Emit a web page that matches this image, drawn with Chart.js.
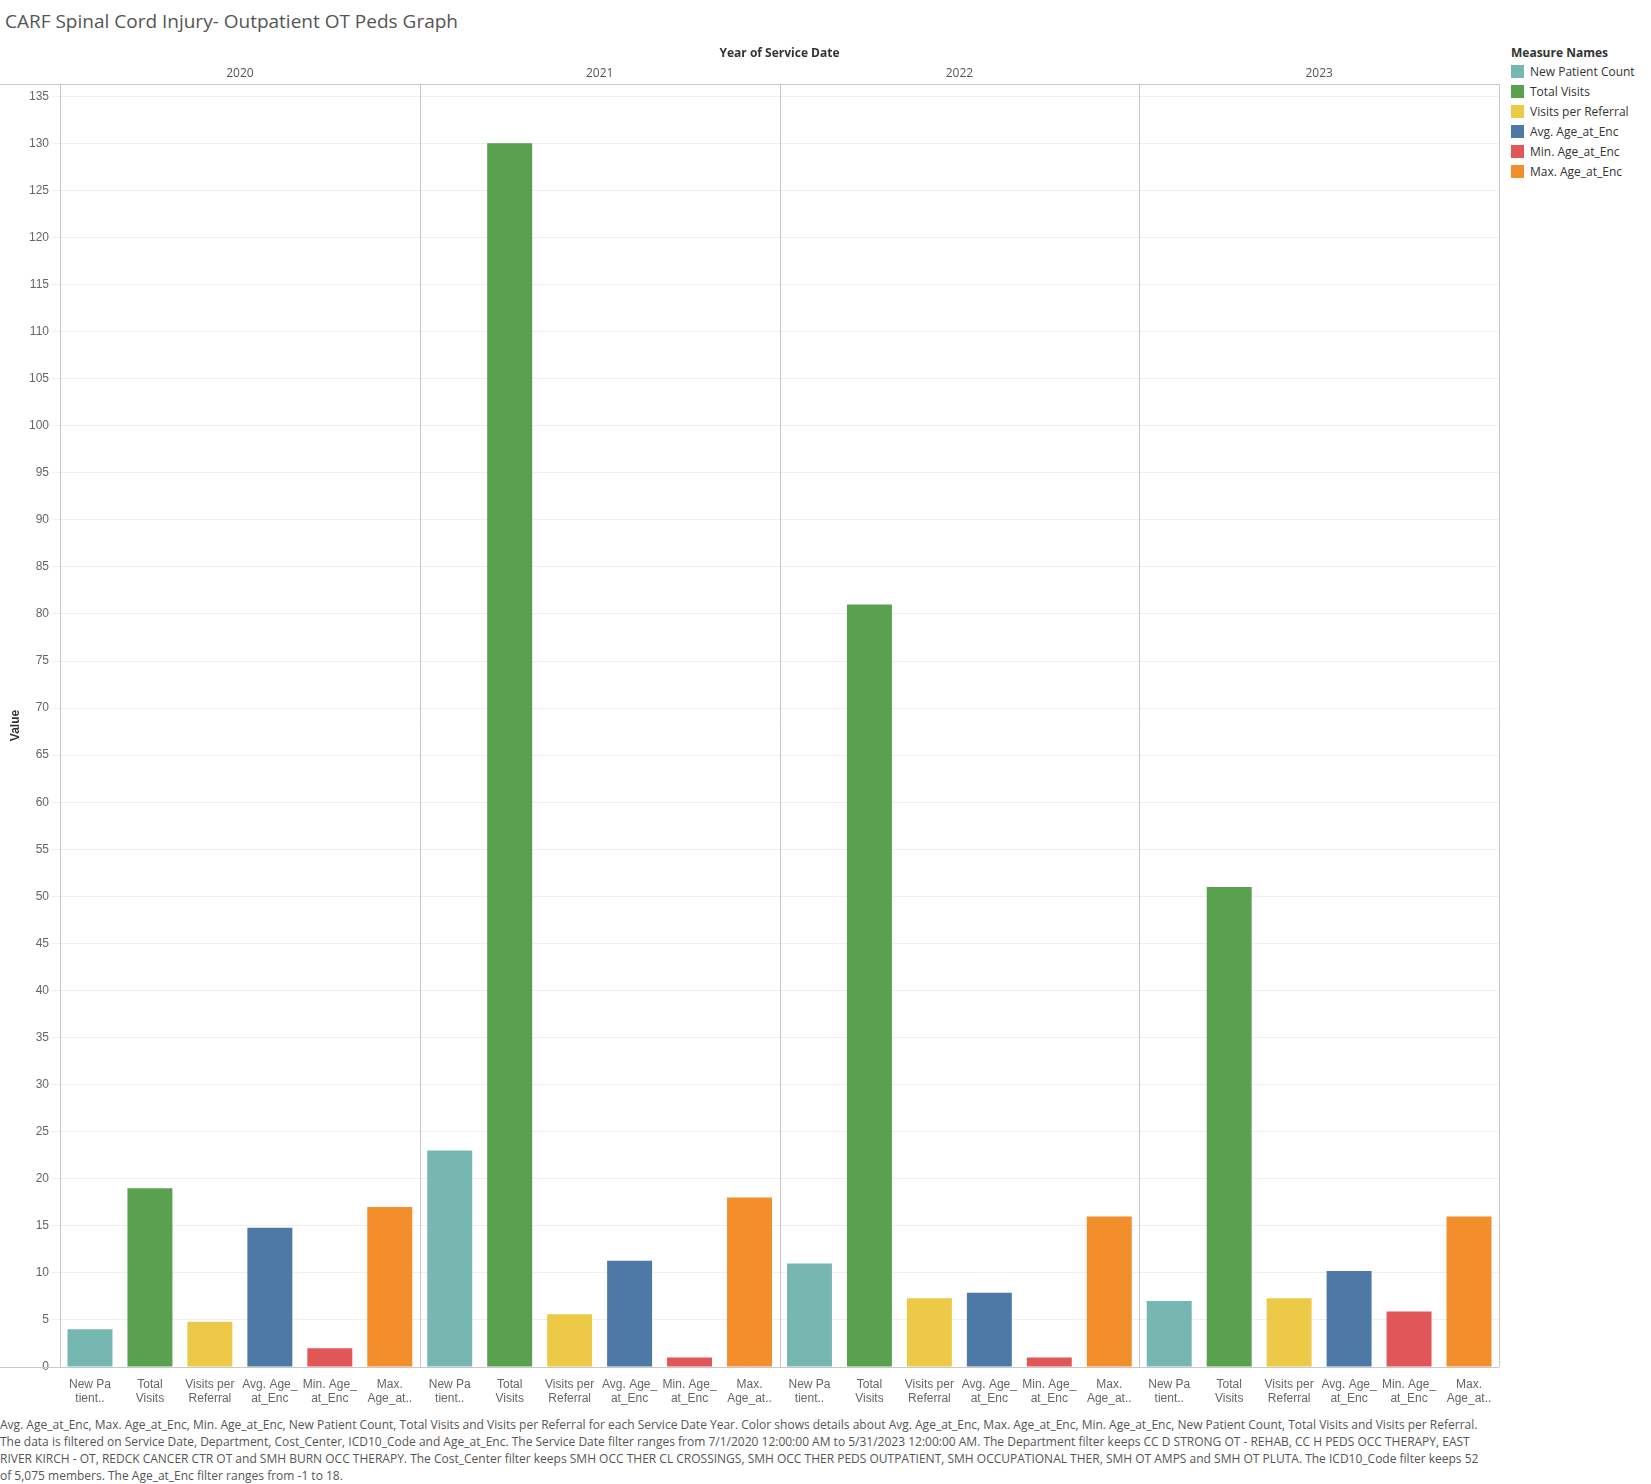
<!DOCTYPE html>
<html><head><meta charset="utf-8">
<script src="https://cdn.jsdelivr.net/npm/chart.js@4"></script>
<style>
body{margin:0;width:1651px;height:1484px;position:relative;font-family:"Open Sans",Lato,sans-serif;background:#fff;overflow:hidden}
#title{position:absolute;left:5px;top:8px;font-size:19px;color:#555}
#legend{position:absolute;left:1511px;top:44px;font-size:12px;color:#333}
#legend b{display:block;margin-bottom:0px;font-weight:bold}
#legend div{height:20px;display:flex;align-items:center}
#legend span{width:13px;height:13px;margin-right:6px;display:inline-block}
#note{position:absolute;left:0;top:1416px;width:1480px;font-size:12px;color:#555;line-height:17px}
canvas{position:absolute;left:0;top:0}
</style></head><body>
<div id="title">CARF Spinal Cord Injury- Outpatient OT Peds Graph</div>
<div id="legend"></div>
<div id="note">Avg. Age_at_Enc, Max. Age_at_Enc, Min. Age_at_Enc, New Patient Count, Total Visits and Visits per Referral for each Service Date Year.  Color shows details about Avg. Age_at_Enc, Max. Age_at_Enc, Min. Age_at_Enc, New Patient Count, Total Visits and Visits per Referral. The data is filtered on Service Date, Department, Cost_Center, ICD10_Code and Age_at_Enc. The Service Date filter ranges from 7/1/2020 12:00:00 AM to 5/31/2023 12:00:00 AM. The Department filter keeps CC D STRONG OT - REHAB, CC H PEDS OCC THERAPY, EAST RIVER KIRCH - OT, REDCK CANCER CTR OT and SMH BURN OCC THERAPY. The Cost_Center filter keeps SMH OCC THER CL CROSSINGS, SMH OCC THER PEDS OUTPATIENT, SMH OCCUPATIONAL THER, SMH OT AMPS and SMH OT PLUTA. The ICD10_Code filter keeps 52 of 5,075 members. The Age_at_Enc filter ranges from -1 to 18.</div>
<div style="position:absolute;left:0;top:0;width:1651px;height:1484px"><canvas id="chart"></canvas></div>
<script>
const years = ['2020', '2021', '2022', '2023'];
const measures = ['New Patient Count', 'Total Visits', 'Visits per Referral', 'Avg. Age_at_Enc', 'Min. Age_at_Enc', 'Max. Age_at_Enc'];
const shortLabels = [['New Pa', 'tient..'], ['Total', 'Visits'], ['Visits per', 'Referral'], ['Avg. Age_', 'at_Enc'], ['Min. Age_', 'at_Enc'], ['Max.', 'Age_at..']];
const colors = ['#76b7b2', '#59a14f', '#edc948', '#4e79a7', '#e15759', '#f28e2b'];
const newPatients = [4, 23, 11, 7];
const totalVisits = [19, 130, 81, 51];
const visitsPerReferral = [4.8, 5.6, 7.3, 7.3];
const avgAge = [14.8, 11.3, 7.9, 10.2];
const minAge = [2, 1, 1, 5.9];
const maxAge = [17, 18, 16, 16];

const series = [newPatients, totalVisits, visitsPerReferral, avgAge, minAge, maxAge];
const labels = [], values = [], barColors = [];
years.forEach((y, yi) => series.forEach((s, mi) => {
  labels.push(shortLabels[mi]); values.push(s[yi]); barColors.push(colors[mi]);
}));

document.getElementById('legend').innerHTML = '<b>Measure Names</b>' +
  measures.map((m, i) => `<div><span style="background:${colors[i]}"></span>${m}</div>`).join('');

const panels = {
  id: 'panels',
  afterDraw(chart) {
    const { ctx, chartArea: a } = chart;
    ctx.save();
    ctx.strokeStyle = '#c8c8c8'; ctx.lineWidth = 1;
    ctx.beginPath();
    ctx.moveTo(0, a.top + .5); ctx.lineTo(a.right, a.top + .5);
    ctx.moveTo(a.right + .5, a.top); ctx.lineTo(a.right + .5, a.bottom);
    ctx.moveTo(0, a.bottom + .5); ctx.lineTo(a.right, a.bottom + .5);
    const step = (a.right - a.left) / labels.length;
    for (let i = 1; i < years.length; i++) {
      const px = Math.round(a.left + step * 6 * i) + .5;
      ctx.moveTo(px, a.top); ctx.lineTo(px, a.bottom);
    }
    ctx.stroke();
    ctx.fillStyle = '#333'; ctx.textAlign = 'center';
    ctx.font = 'bold 12px "Open Sans"';
    ctx.fillText('Year of Service Date', (a.left + a.right) / 2, 57);
    ctx.font = '12px "Open Sans"'; ctx.fillStyle = '#555';
    years.forEach((y, i) => ctx.fillText(y, a.left + step * (6 * i + 3), 77));
    ctx.restore();
  }
};

new Chart(document.getElementById('chart'), {
  type: 'bar',
  data: { labels, datasets: [{ data: values, backgroundColor: barColors, barPercentage: 0.75, categoryPercentage: 1 }] },
  options: {
    responsive: true, maintainAspectRatio: false, animation: false,
    layout: { padding: { top: 84, right: 152, bottom: 72, left: 8 } },
    plugins: { legend: { display: false }, tooltip: { enabled: false } },
    scales: {
      x: {
        grid: { display: false }, border: { display: false },
        ticks: { color: '#666', font: { size: 12 }, maxRotation: 0, autoSkip: false, padding: 2 },
        afterFit: s => { s.height = 45; }
      },
      y: {
        min: 0, max: 136.3,
        grid: { color: '#efefef' }, border: { display: true, color: '#c8c8c8' },
        ticks: { color: '#666', font: { size: 12 } },
        afterBuildTicks: s => { s.ticks = []; for (let v = 0; v <= 135; v += 5) s.ticks.push({ value: v }); },
        title: { display: true, text: 'Value', color: '#333', font: { size: 12, weight: 'bold' }, padding: 0 },
        afterFit: s => { s.width = 52; }
      }
    }
  },
  plugins: [panels]
});
</script>
</body></html>
